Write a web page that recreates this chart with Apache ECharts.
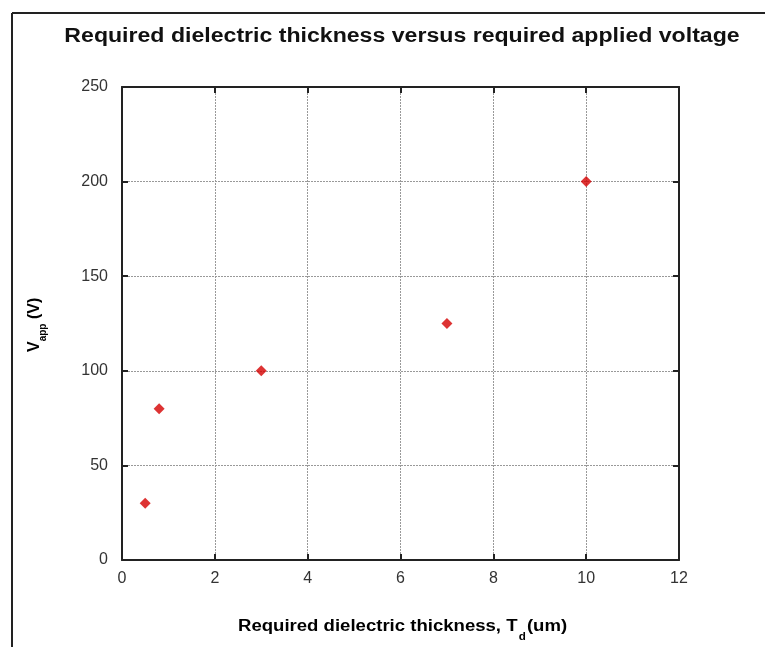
<!DOCTYPE html>
<html>
<head>
<meta charset="utf-8">
<script src="https://cdn.jsdelivr.net/npm/echarts@6/dist/echarts.min.js"></script>
<style>
html,body{margin:0;padding:0;background:#fff;}
#chart{width:765px;height:647px;}
</style>
</head>
<body>
<div id="chart"></div>
<script>
var titleText = 'Required dielectric thickness versus required applied voltage';
var thickness = [0.5, 0.8, 3, 7, 10];
var voltage = [30, 80, 100, 125, 200];
var xTicks = [0, 2, 4, 6, 8, 10, 12];
var yTicks = [0, 50, 100, 150, 200, 250];

var points = thickness.map(function (t, i) { return [t, voltage[i]]; });
var chart = echarts.init(document.getElementById('chart'));
var font = 'Arial, "Liberation Sans", sans-serif';

var baseX = {
  type: 'value', min: xTicks[0], max: xTicks[xTicks.length - 1], interval: 2,
  axisLine: { show: true, onZero: false, lineStyle: { color: '#222', width: 2 } },
  axisTick: { show: true, inside: true, length: 6, lineStyle: { color: '#222', width: 2 } }
};
var baseY = {
  type: 'value', min: yTicks[0], max: yTicks[yTicks.length - 1], interval: 50,
  axisLine: { show: true, onZero: false, lineStyle: { color: '#222', width: 2 } },
  axisTick: { show: true, inside: true, length: 6, lineStyle: { color: '#222', width: 2 } }
};

chart.setOption({
  backgroundColor: '#fff',
  animation: false,
  grid: { left: 122, top: 87, right: 86, bottom: 87, show: false },
  xAxis: [
    Object.assign({}, baseX, {
      position: 'bottom',
      axisLabel: { show: true, margin: 11, fontFamily: font, fontSize: 16, color: '#333' },
      splitLine: { show: true, lineStyle: { color: '#999', type: [2, 1], width: 1 } }
    }),
    Object.assign({}, baseX, {
      position: 'top', axisLabel: { show: false }, splitLine: { show: false }
    })
  ],
  yAxis: [
    Object.assign({}, baseY, {
      position: 'left',
      axisLabel: { show: true, margin: 14, fontFamily: font, fontSize: 16, color: '#333' },
      splitLine: { show: true, lineStyle: { color: '#999', type: [2, 1], width: 1 } }
    }),
    Object.assign({}, baseY, {
      position: 'right', axisLabel: { show: false }, splitLine: { show: false }
    })
  ],
  series: [{
    type: 'scatter',
    xAxisIndex: 0, yAxisIndex: 0,
    symbol: 'diamond', symbolSize: 11,
    itemStyle: { color: '#d40000' },
    data: points
  }],
  graphic: [
    { type: 'line', shape: { x1: 12, y1: 13, x2: 765, y2: 13 }, style: { stroke: '#222', lineWidth: 2 } },
    { type: 'line', shape: { x1: 12, y1: 13, x2: 12, y2: 647 }, style: { stroke: '#222', lineWidth: 2 } },
    {
      type: 'text', x: 402, y: 26, scaleX: 1.155, originX: 0,
      style: {
        text: titleText, textAlign: 'center', textVerticalAlign: 'top',
        font: 'bold 20px ' + font, fill: '#111'
      }
    },
    {
      type: 'text', x: 238, y: 619, scaleX: 1.16,
      style: {
        text: '{m|Required dielectric thickness, T}{s|d}{m|(um)}',
        rich: {
          m: { fontFamily: font, fontSize: 16, fontWeight: 'bold', color: '#111', lineHeight: 19, verticalAlign: 'top' },
          s: { fontFamily: font, fontSize: 10, fontWeight: 'bold', color: '#111', padding: [13, 1, 0, 1], verticalAlign: 'top' }
        }
      }
    },
    {
      type: 'text', x: 27, y: 352, rotation: Math.PI / 2,
      style: {
        text: '{m|V}{s|app}{m| (V)}',
        rich: {
          m: { fontFamily: font, fontSize: 16, fontWeight: 'bold', color: '#111', lineHeight: 19, verticalAlign: 'top' },
          s: { fontFamily: font, fontSize: 10, fontWeight: 'bold', color: '#111', padding: [11, 0, 0, 0], verticalAlign: 'top' }
        }
      }
    }
  ]
});
</script>
</body>
</html>
